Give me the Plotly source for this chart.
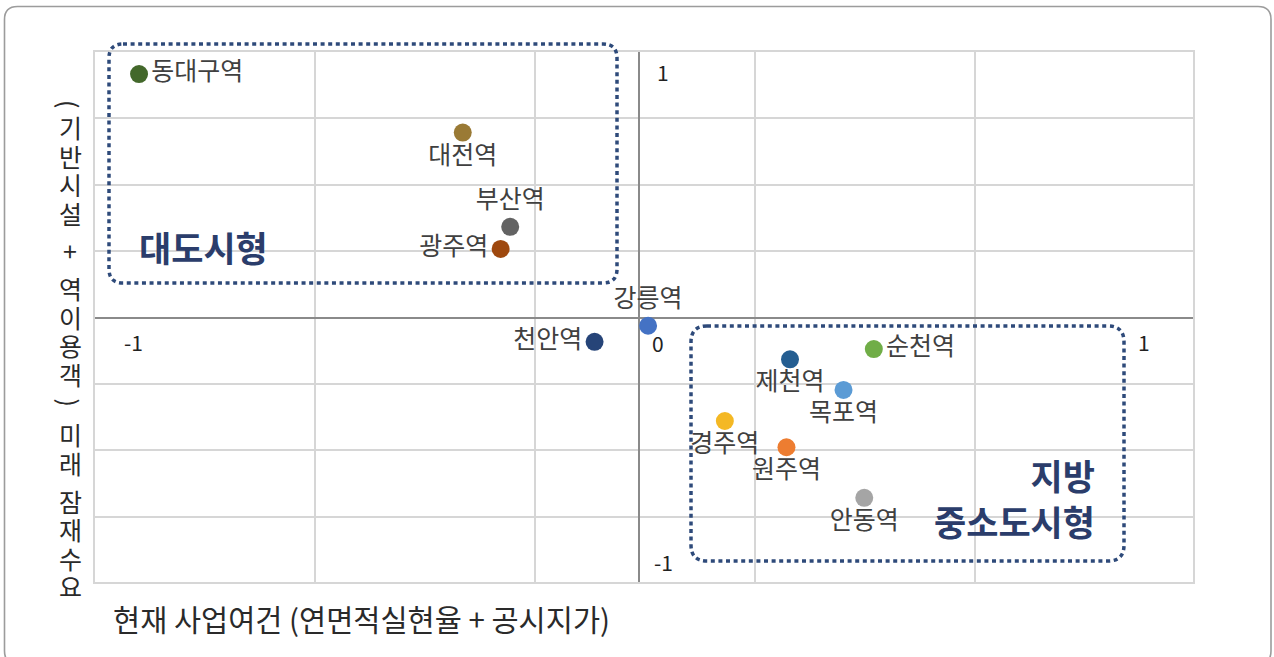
import plotly.graph_objects as go

# ---------------- data ----------------
stations = ["동대구역", "대전역", "부산역", "광주역", "천안역", "강릉역",
            "순천역", "제천역", "목포역", "경주역", "원주역", "안동역"]
x_vals = [-0.990, -0.349, -0.255, -0.274, -0.088, 0.018,
          0.465, 0.299, 0.405, 0.170, 0.292, 0.446]
y_vals = [1.002, 0.761, 0.373, 0.282, -0.100, -0.034,
          -0.130, -0.172, -0.298, -0.426, -0.534, -0.742]
colors = ["#43682b", "#9a7a35", "#636363", "#9e480e", "#264478", "#4472c4",
          "#70ad47", "#255e91", "#5b9bd5", "#f4b824", "#ed7d31", "#a5a5a5"]
label_pos = ["middle right", "bottom center", "top center", "middle left",
             "middle left", "top center", "middle right", "bottom center",
             "bottom center", "bottom center", "bottom center", "bottom center"]

x_title = "현재 사업여건 (연면적실현율 + 공시지가)"
y_title = "(기반시설 + 역이용객) 미래 잠재수요"
group_big = "대도시형"
group_small = "지방<br>중소도시형"
axis_ticks = [-1, 1]

# ---------------- layout geometry (pixels) ----------------
W, H = 1274, 657
PL, PR, PT, PB = 95, 1193, 52, 582
FONT = "Noto Sans CJK KR"
NAVY = "#2b3d6b"


def X(px):
    return (px - PL) / (PR - PL)


def Y(py):
    return (PB - py) / (PB - PT)


def rrect(x0, y0, x1, y1, r):
    pts = [
        ("M", [(x0 + r, y0)]), ("L", [(x1 - r, y0)]),
        ("Q", [(x1, y0), (x1, y0 + r)]), ("L", [(x1, y1 - r)]),
        ("Q", [(x1, y1), (x1 - r, y1)]), ("L", [(x0 + r, y1)]),
        ("Q", [(x0, y1), (x0, y1 - r)]), ("L", [(x0, y0 + r)]),
        ("Q", [(x0, y0), (x0 + r, y0)]),
    ]
    s = ""
    for cmd, ps in pts:
        s += cmd + " " + " ".join(f"{X(a):.5f},{Y(b):.5f}" for a, b in ps) + " "
    return s + "Z"


fig = go.Figure()
fig.add_trace(go.Scatter(
    x=x_vals, y=y_vals, mode="markers+text",
    text=stations, textposition=label_pos,
    marker=dict(size=18, color=colors, line=dict(width=0)),
    textfont=dict(family=FONT, size=25, color="#404040"),
    cliponaxis=False, hoverinfo="text",
))

x_range = [-1.0772, 1.0970]
y_range = [-1.0885, 1.0926]

fig.update_layout(
    width=W, height=H,
    margin=dict(l=PL, r=W - PR, t=PT, b=H - PB, pad=0),
    paper_bgcolor="white", plot_bgcolor="white",
    showlegend=False,
    font=dict(family=FONT),
    xaxis=dict(range=x_range, tick0=-0.2059, dtick=0.43564,
               showgrid=True, gridcolor="#d6d6d6", gridwidth=2,
               showticklabels=False, ticks="",
               zeroline=True, zerolinecolor="#8a8a8a", zerolinewidth=1.5,
               showline=True, mirror=True, linecolor="#d6d6d6", linewidth=2),
    yaxis=dict(range=y_range, tick0=0, dtick=0.27315,
               showgrid=True, gridcolor="#d6d6d6", gridwidth=2,
               showticklabels=False, ticks="",
               zeroline=True, zerolinecolor="#8a8a8a", zerolinewidth=1.5,
               showline=True, mirror=True, linecolor="#d6d6d6", linewidth=2),
)

shapes = []
# outer rounded border
shapes.append(dict(type="path", xref="paper", yref="paper",
                   path=rrect(4.5, 6.5, 1271, 664, 13),
                   line=dict(color="#9c9c9c", width=1.6), layer="below"))
# group boxes
shapes.append(dict(type="path", xref="paper", yref="paper",
                   path=rrect(109, 44, 617, 283, 14),
                   line=dict(color="#2e4a7a", width=3.5, dash="4px,3.6px")))
shapes.append(dict(type="path", xref="paper", yref="paper",
                   path=rrect(691, 326, 1124, 561, 16),
                   line=dict(color="#2e4a7a", width=3.5, dash="4px,3.6px")))
fig.update_layout(shapes=shapes)

ann = []
# axis tick labels
for v in axis_ticks:
    ann.append(dict(x=v, y=0, xref="x", yref="y", text=f"{v}",
                    showarrow=False, yshift=-24,
                    xanchor="center", yanchor="middle",
                    font=dict(family=FONT, size=21, color="#222")))
    ann.append(dict(x=0, y=v, xref="x", yref="y", text=f"{v}",
                    showarrow=False, xshift=24, yshift=3 if v > 0 else -2,
                    xanchor="center", yanchor="middle",
                    font=dict(family=FONT, size=21, color="#222")))
ann.append(dict(x=0, y=0, xref="x", yref="y", text="0", showarrow=False,
                xshift=19, yshift=-25, xanchor="center", yanchor="middle",
                font=dict(family=FONT, size=21, color="#222")))

# group labels
ann.append(dict(x=X(203), y=Y(246), xref="paper", yref="paper",
                text=f"<b>{group_big}</b>", showarrow=False,
                xanchor="center", yanchor="middle",
                font=dict(family=FONT, size=35, color=NAVY)))
ann.append(dict(x=X(1097), y=Y(497), xref="paper", yref="paper",
                text=f"<b>{group_small}</b>", showarrow=False,
                xanchor="right", yanchor="middle", align="right",
                font=dict(family=FONT, size=35, color=NAVY)))

# x title
ann.append(dict(x=X(111), y=Y(618), xref="paper", yref="paper",
                text=x_title, showarrow=False,
                xanchor="left", yanchor="middle",
                font=dict(family=FONT, size=29.5, color="#2a2a2a")))

# y title, vertical stacked characters (parentheses turned sideways)
yy = 104.0
for ch in y_title:
    if ch == " ":
        yy += 9
        continue
    if ch in "()":
        ann.append(dict(x=X(70), y=Y(yy), xref="paper", yref="paper",
                        text=ch, showarrow=False, textangle=90,
                        xanchor="center", yanchor="middle",
                        font=dict(family=FONT, size=25, color="#2a2a2a")))
        yy += 23
    else:
        ann.append(dict(x=X(70), y=Y(yy), xref="paper", yref="paper",
                        text=ch, showarrow=False,
                        xanchor="center", yanchor="middle",
                        font=dict(family=FONT, size=25, color="#2a2a2a")))
        yy += 28.6

fig.update_layout(annotations=ann)

fig.write_html("out.html")
